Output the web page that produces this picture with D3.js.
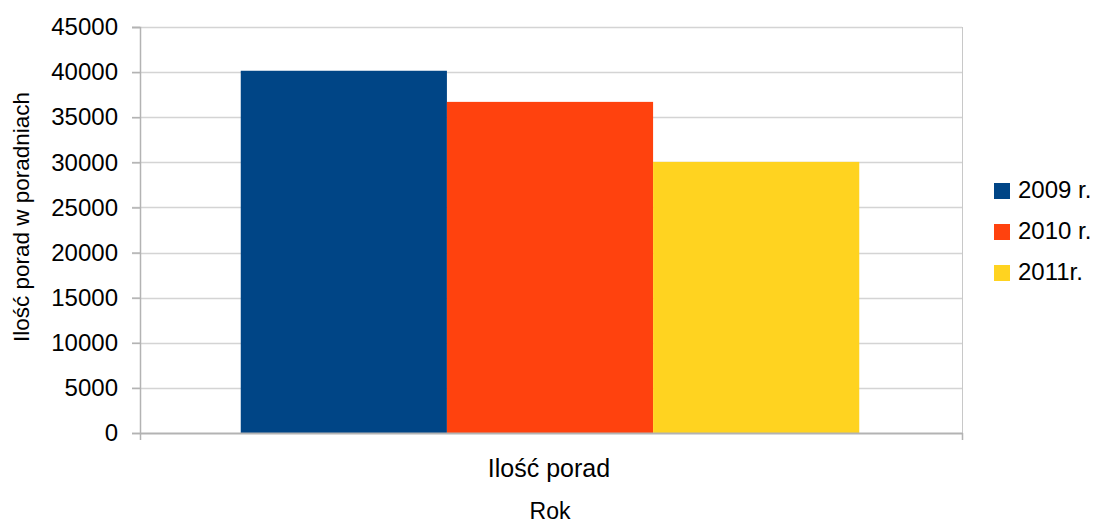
<!DOCTYPE html>
<html>
<head>
<meta charset="utf-8">
<script src="https://cdn.jsdelivr.net/npm/d3@7"></script>
<style>
  body { margin: 0; background: #fff; }
  text { font-family: "Liberation Sans", Arial, sans-serif; fill: #000; }
</style>
</head>
<body>
<div id="viz"></div>
<script>
// data
const categories = ['Ilość porad'];
const seriesNames = ['2009 r.', '2010 r.', '2011r.'];
const seriesValues = [40150, 36700, 30050];
const colors = ['#004586', '#ff420e', '#ffd320'];
const yTicks = [0, 5000, 10000, 15000, 20000, 25000, 30000, 35000, 40000, 45000];

const width = 1097, height = 525;
const plot = { left: 140, right: 962, top: 27, bottom: 433 };

const svg = d3.select('#viz').append('svg')
  .attr('width', width)
  .attr('height', height);

const y = d3.scaleLinear().domain([0, 45000]).range([plot.bottom, plot.top]);
const x0 = d3.scaleBand().domain(categories).range([plot.left, plot.right]);

// gridlines
svg.append('g')
  .selectAll('line')
  .data(yTicks.filter(d => d > 0))
  .join('line')
  .attr('x1', plot.left - 8).attr('x2', plot.right)
  .attr('y1', d => Math.round(y(d)) + 0.5).attr('y2', d => Math.round(y(d)) + 0.5)
  .attr('stroke', '#d4d4d4').attr('stroke-width', 1.5);

// right border
svg.append('line')
  .attr('x1', plot.right + 0.5).attr('x2', plot.right + 0.5)
  .attr('y1', plot.top).attr('y2', plot.bottom + 6)
  .attr('stroke', '#c8c8c8');

// bars: gap of one bar width split on both sides
const bw = x0.bandwidth() / (seriesNames.length + 1);
const barX = d3.scaleBand().domain(seriesNames)
  .range([x0(categories[0]) + bw / 2 - 2, x0(categories[0]) + x0.bandwidth() - bw / 2]);

svg.append('g')
  .selectAll('rect')
  .data(seriesValues)
  .join('rect')
  .attr('x', (d, i) => barX(seriesNames[i]))
  .attr('width', barX.bandwidth())
  .attr('y', d => y(d))
  .attr('height', d => y(0) - y(d))
  .attr('fill', (d, i) => colors[i]);

// y axis
const yAxis = svg.append('g')
  .attr('transform', `translate(${plot.left},0)`)
  .call(d3.axisLeft(y).tickValues(yTicks).tickSize(8).tickPadding(14).tickFormat(d3.format('d')));
yAxis.select('.domain').attr('stroke', '#b3b3b3').attr('stroke-width', 1.5);
yAxis.selectAll('.tick line').attr('stroke', '#b3b3b3').attr('stroke-width', 1.5);
yAxis.selectAll('.tick text').style('font-size', '24px')
  .attr('font-family', '"Liberation Sans", Arial, sans-serif').attr('fill', '#000');

// x axis
const xAxis = svg.append('g')
  .attr('transform', `translate(0,${plot.bottom})`)
  .call(d3.axisBottom(x0).tickSize(0).tickFormat(''));
xAxis.select('.domain').attr('stroke', '#b3b3b3').attr('stroke-width', 2);
svg.append('g').selectAll('line')
  .data([plot.left, plot.right])
  .join('line')
  .attr('x1', d => d + 0.5).attr('x2', d => d + 0.5)
  .attr('y1', plot.bottom).attr('y2', plot.bottom + 7)
  .attr('stroke', '#b3b3b3').attr('stroke-width', 1.5);

svg.append('text')
  .attr('x', x0(categories[0]) + x0.bandwidth() / 2 - 2)
  .attr('y', 477)
  .attr('text-anchor', 'middle')
  .style('font-size', '25px')
  .text(categories[0]);

// axis titles
svg.append('text')
  .attr('x', 550).attr('y', 519)
  .attr('text-anchor', 'middle')
  .style('font-size', '23px')
  .text('Rok');

svg.append('text')
  .attr('transform', 'translate(29,217) rotate(-90)')
  .attr('text-anchor', 'middle')
  .style('font-size', '22.5px')
  .text('Ilość porad w poradniach');

// legend
const legend = svg.append('g')
  .selectAll('g')
  .data(seriesNames)
  .join('g')
  .attr('transform', (d, i) => `translate(994,${183 + i * 41})`);
legend.append('rect')
  .attr('width', 16).attr('height', 16)
  .attr('fill', (d, i) => colors[i]);
legend.append('text')
  .attr('x', 24).attr('y', 15)
  .style('font-size', '24px')
  .text(d => d);
</script>
</body>
</html>
